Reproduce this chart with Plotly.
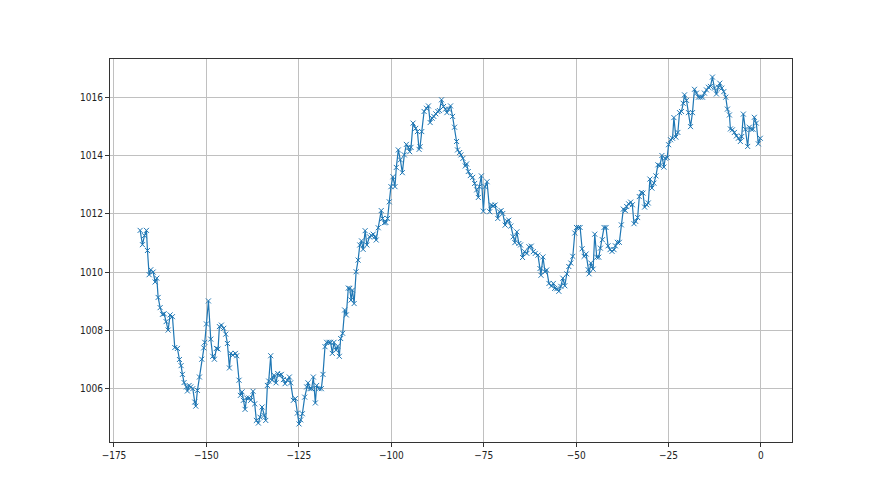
import plotly.graph_objects as go

hours = [
-167.93,-167.30,-166.76,-166.22,-165.95,-165.50,-165.05,-164.41,-163.87,-163.42,
-163.06,-162.52,-161.89,-161.44,-160.90,-160.36,-159.82,-159.19,-158.56,-157.84,
-157.30,-156.85,-156.49,-156.04,-155.41,-155.14,-154.68,-154.23,-153.69,-153.15,
-152.88,-152.43,-151.89,-151.26,-150.72,-150.45,-150.00,-149.46,-148.83,-148.29,
-147.84,-147.30,-146.85,-146.49,-145.95,-145.32,-144.77,-144.32,-143.78,-143.42,
-142.88,-142.16,-141.80,-141.17,-140.81,-140.36,-140.00,-139.55,-139.10,-138.47,
-138.02,-137.39,-136.94,-136.49,-135.95,-135.50,-134.95,-134.41,-133.96,-133.51,
-133.15,-132.61,-132.25,-131.71,-131.17,-130.72,-130.27,-129.73,-129.19,-128.74,
-128.11,-127.57,-127.21,-126.49,-125.95,-125.41,-124.95,-124.50,-124.05,-123.42,
-122.88,-122.52,-121.98,-121.53,-121.08,-120.54,-120.18,-119.55,-118.92,-118.47,
-117.93,-117.48,-116.85,-116.40,-115.95,-115.50,-114.95,-114.50,-114.05,-113.69,
-113.15,-112.61,-112.16,-111.62,
-111.23,-110.87,-110.51,-110.05,-109.51,-108.97,-108.51,-108.06,-107.61,-107.07,
-106.61,-105.89,-105.34,-104.89,-104.44,-104.08,-103.53,-102.72,-102.36,-101.90,
-101.45,-101.00,-100.54,-100.09,-99.55,-99.00,-98.64,-98.10,-97.55,-97.01,
-96.47,-95.92,-95.38,-95.02,-94.66,-94.11,-93.39,-92.93,-92.48,-92.21,
-91.76,-91.12,-90.49,-89.95,-89.49,-88.95,-88.50,-87.95,-87.41,-86.96,
-86.41,-85.87,-85.33,-84.96,-84.51,-83.97,-83.42,-82.88,-82.34,-82.07,
-81.52,-81.16,-80.62,-79.98,-79.62,-79.17,-78.62,-77.99,-77.45,-76.90,
-76.45,-76.18,-75.63,-75.09,-74.64,-74.09,-73.37,-72.92,-72.46,-71.92,
-71.20,-70.74,-70.29,-69.84,-69.20,-68.75,-68.21,-67.66,-67.03,-66.58,
-66.03,-65.49,-65.04,-64.49,-63.95,-63.32,-62.77,-62.14,-61.59,-61.05,
-60.33,-59.78,-59.51,-58.97,-58.42,-57.97,-57.34,-56.70,-56.16,-55.80,
-55.22,-54.68,-54.14,-53.60,-53.06,-52.52,-51.98,-51.44,-50.90,-50.36,
-49.91,-49.37,-48.92,-48.38,-47.84,-47.30,-46.76,-46.49,-46.04,-45.41,
-44.96,-44.42,-43.88,-43.44,-42.90,-42.45,-41.91,-41.37,-40.83,-40.29,
-39.75,-39.39,-38.85,-38.31,-37.77,-37.23,-36.69,-36.33,-35.79,-35.25,
-34.80,-34.35,-33.90,-33.36,-32.91,-32.37,-31.92,-31.47,-30.94,-30.49,
-30.04,-29.50,-28.96,-28.42,-27.88,-27.34,-26.80,-26.26,-25.90,-25.36,
-25.00,-24.46,-23.92,-23.56,-23.02,-22.48,-22.03,-21.49,-21.04,-20.68,
-20.14,-19.60,-19.06,-18.53,-17.99,-17.45,-16.91,-16.37,-15.83,-15.29,
-14.75,-14.21,-13.67,-13.13,-12.59,-12.05,-11.51,-11.15,-10.61,-10.07,
-9.53,-9.08,-8.54,-8.27,-7.73,-7.19,-6.65,-6.12,-5.58,-5.22,
-4.77,-4.23,-3.60,-3.15,-2.61,-2.16,-1.80,-1.26,-0.72,-0.18,
]

pressure = [
1011.43,1010.94,1011.25,1011.43,1010.74,1009.91,1010.08,1010.00,1009.66,1009.79,
1009.13,1008.78,1008.55,1008.57,1008.30,1008.01,1008.53,1008.47,1007.41,1007.38,
1007.00,1006.79,1006.49,1006.21,1006.06,1005.92,1006.11,1006.06,1006.00,1005.54,
1005.40,1005.94,1006.40,1007.01,1007.40,1007.59,1008.22,1009.01,1007.70,1007.11,
1007.01,1007.38,1007.36,1008.13,1008.18,1008.07,1007.87,1007.55,1006.71,1007.21,
1007.15,1007.21,1007.13,1006.29,1005.77,1005.89,1005.60,1005.29,1005.68,1005.68,
1005.60,1005.91,1005.48,1004.91,1004.82,1005.02,1005.37,1005.08,1004.91,1006.11,
1006.26,1007.13,1006.29,1006.46,1006.20,1006.52,1006.46,1006.49,1006.31,1006.17,
1006.29,1006.40,1006.20,1005.60,1005.66,1005.16,1004.79,1004.93,1005.14,1005.71,
1006.06,1006.20,1006.00,1006.00,1006.40,1005.51,1006.11,1006.00,1006.00,1006.49,
1007.44,1007.59,1007.59,1007.59,1007.21,1007.59,1007.32,1007.46,1007.11,1007.72,
1007.90,1008.70,1008.53,1009.45,
1009.44,1009.04,1009.38,1008.92,1010.01,1010.41,1010.93,1011.07,1010.78,1011.42,
1010.93,1011.21,1011.25,1011.30,1011.21,1011.10,1011.52,1012.11,1011.84,1011.69,
1011.70,1011.84,1012.41,1012.93,1013.27,1012.93,1013.59,1014.19,1013.85,1013.41,
1014.02,1014.38,1014.28,1014.13,1014.28,1015.11,1014.93,1014.82,1014.21,1014.30,
1014.82,1015.51,1015.62,1015.70,1015.13,1015.28,1015.34,1015.43,1015.51,1015.54,
1015.91,1015.68,1015.59,1015.47,1015.59,1015.70,1015.34,1014.97,1014.48,1014.19,
1014.10,1014.02,1013.90,1013.64,1013.71,1013.45,1013.31,1013.25,1013.04,1012.82,
1012.56,1012.93,1013.30,1012.09,1012.93,1013.10,1012.07,1012.30,1012.27,1012.30,
1011.84,1012.07,1012.11,1012.01,1011.61,1011.75,1011.78,1011.58,1011.21,1011.01,
1011.38,1010.98,1010.93,1010.50,1010.70,1010.64,1010.87,1010.89,1010.70,1010.64,
1010.58,1010.12,1009.89,1010.52,1010.01,1010.07,1009.61,1009.52,1009.61,1009.44,
1009.43,1009.34,1009.51,1009.79,1009.53,1009.94,1010.19,1010.31,1010.54,1011.34,
1011.53,1011.53,1011.53,1010.80,1010.54,1010.62,1010.08,1009.94,1010.31,1010.10,
1011.30,1010.51,1010.51,1010.82,1011.11,1011.53,1011.53,1010.90,1010.77,1010.71,
1010.77,1010.90,1011.02,1011.02,1011.62,1012.16,1012.11,1012.25,1012.34,1012.40,
1012.31,1011.66,1011.74,1011.87,1012.59,1012.73,1012.71,1012.23,1012.31,1012.37,
1013.19,1012.88,1013.05,1013.30,1013.68,1013.65,1014.00,1013.60,1013.91,1013.93,
1014.37,1014.54,1014.59,1015.30,1014.63,1014.79,1015.47,1015.51,1015.79,1016.08,
1015.89,1015.47,1014.99,1015.47,1016.27,1016.14,1016.00,1016.00,1016.00,1016.14,
1016.25,1016.34,1016.37,1016.69,1016.31,1016.11,1016.34,1016.48,1016.31,1016.19,
1016.00,1015.59,1015.39,1014.91,1014.88,1014.79,1014.67,1014.59,1014.48,1014.65,
1015.42,1014.90,1014.31,1014.97,1014.90,1014.90,1015.31,1015.11,1014.40,1014.59,
]

x_ticks = [-175, -150, -125, -100, -75, -50, -25, 0]
y_ticks = [1006, 1008, 1010, 1012, 1014, 1016]

fig = go.Figure()
fig.add_trace(go.Scatter(
    x=hours, y=pressure, mode="lines+markers",
    line=dict(color="#1f77b4", width=1.2),
    marker=dict(symbol="x-thin", size=5, color="#1f77b4",
                line=dict(color="#1f77b4", width=1)),
    showlegend=False,
))

font_family = "Liberation Sans Narrow, DejaVu Sans Condensed, DejaVu Sans, sans-serif"
axis_common = dict(
    showgrid=True, gridcolor="#c0c0c0", gridwidth=0.8,
    showline=True, linecolor="#333333", linewidth=1, mirror=True,
    ticks="outside", ticklen=4, tickwidth=1, tickcolor="#333333",
    zeroline=False,
    tickfont=dict(family=font_family, size=10, color="#222222"),
)

# The page body adds an 8px margin, so the figure is sized/offset to match.
fig.update_layout(
    width=872, height=487,
    margin=dict(l=102, r=88, t=51, b=53),
    paper_bgcolor="white", plot_bgcolor="white",
    xaxis=dict(range=[-176.08, 8.39], tickvals=x_ticks,
               ticktext=[("\u2212" + str(-v)) if v < 0 else str(v) for v in x_ticks],
               **axis_common),
    yaxis=dict(range=[1004.17, 1017.31], tickvals=y_ticks,
               ticktext=[str(v) for v in y_ticks], **axis_common),
)

fig.write_html("out.html")
